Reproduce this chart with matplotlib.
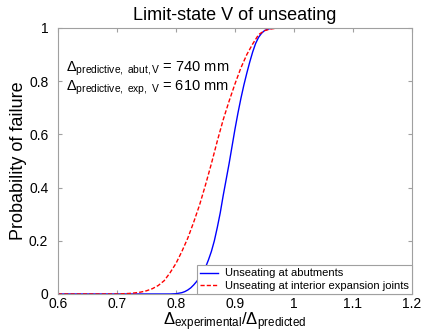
import numpy as np
import matplotlib
matplotlib.use('Agg')
import matplotlib.pyplot as plt

plt.rcParams['font.family'] = 'Liberation Sans'
plt.rcParams['mathtext.fontset'] = 'custom'
plt.rcParams['mathtext.rm'] = 'Liberation Sans'
plt.rcParams['mathtext.it'] = 'Liberation Sans:italic'
plt.rcParams['mathtext.bf'] = 'Liberation Sans:bold'

# Values
abut_x = [0.60, 0.79, 0.795, 0.80, 0.805, 0.81, 0.815, 0.82, 0.825, 0.83, 0.835,
          0.84, 0.845, 0.85, 0.855, 0.86, 0.865, 0.87, 0.875, 0.88, 0.885, 0.89,
          0.895, 0.90, 0.905, 0.91, 0.915, 0.92, 0.925, 0.93, 0.935, 0.94, 0.945,
          0.95, 0.955, 0.96, 0.97, 1.20]
abut_p = [0.0, 0.0, 0.0005, 0.001, 0.003, 0.005, 0.009, 0.015, 0.023, 0.034, 0.047,
          0.063, 0.081, 0.10, 0.128, 0.16, 0.20, 0.25, 0.305, 0.37, 0.43, 0.49,
          0.555, 0.62, 0.68, 0.735, 0.785, 0.83, 0.872, 0.91, 0.942, 0.965, 0.98,
          0.99, 0.995, 0.998, 1.0, 1.0]

exp_x = [0.60, 0.70, 0.71, 0.72, 0.73, 0.74, 0.75, 0.76, 0.77, 0.78, 0.79, 0.80,
         0.81, 0.82, 0.83, 0.84, 0.85, 0.86, 0.87, 0.88, 0.89, 0.90, 0.91, 0.92,
         0.93, 0.94, 0.95, 0.96, 0.97, 0.98, 1.20]
exp_p = [0.0, 0.0, 0.001, 0.002, 0.004, 0.007, 0.012, 0.02, 0.032, 0.05, 0.08, 0.115,
         0.16, 0.21, 0.27, 0.335, 0.41, 0.49, 0.575, 0.655, 0.725, 0.79, 0.85, 0.90,
         0.94, 0.975, 0.99, 0.996, 0.999, 1.0, 1.0]

xticks = [0.6, 0.7, 0.8, 0.9, 1, 1.1, 1.2]
yticks = [0, 0.2, 0.4, 0.6, 0.8, 1]

fig = plt.figure(figsize=(4.34, 3.32), dpi=100)
ax = fig.add_axes([0.1336, 0.1145, 0.8157, 0.8012])

ax.plot(abut_x, abut_p, color='blue', linewidth=1.0, label='Unseating at abutments')
ax.plot(exp_x, exp_p, color='red', linestyle='--', dashes=(3, 1.5), linewidth=1.0,
        label='Unseating at interior expansion joints')

ax.set_xlim(0.6, 1.2)
ax.set_ylim(0, 1)
ax.set_xticks(xticks)
ax.set_xticklabels([str(t) for t in xticks])
ax.set_yticks(yticks)
ax.set_yticklabels([str(t) for t in yticks])
ax.tick_params(direction='in', top=True, right=True, labelsize=10, length=3,
               color='#a0a0a0')
ax.tick_params(axis='x', pad=2)
ax.tick_params(axis='y', pad=7)
for s in ax.spines.values():
    s.set_color('#a0a0a0')
    s.set_linewidth(0.8)

ax.set_title('Limit-state V of unseating', fontsize=13, pad=6)
ax.set_ylabel('Probability of failure', fontsize=13, labelpad=1)
ax.set_xlabel(r'$\Delta_{\mathrm{experimental}}/\Delta_{\mathrm{predicted}}$', fontsize=12, labelpad=0)

ax.text(0.614, 0.835, r'$\Delta_{\mathrm{predictive,\ abut,V}}$ = 740 mm', fontsize=10.5)
ax.text(0.614, 0.765, r'$\Delta_{\mathrm{predictive,\ exp,\ V}}$ = 610 mm', fontsize=10.5)

leg = ax.legend(loc='lower right', fontsize=8, fancybox=False, framealpha=1,
                edgecolor='#a0a0a0', borderaxespad=0, handlelength=1.6,
                borderpad=0.3, labelspacing=0.2, handletextpad=0.6)
leg.get_frame().set_linewidth(0.8)

fig.savefig('out.png', dpi=100)
